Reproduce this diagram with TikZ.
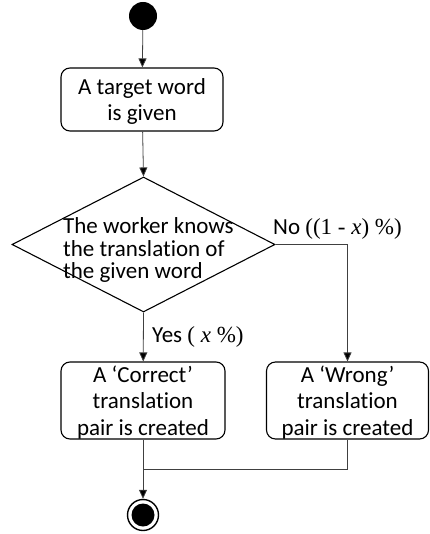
\documentclass[tikz,border=0pt]{standalone}
\usepackage{fontspec}
\setmainfont{Carlito}[Ligatures=NoCommon]
\newfontfamily\mathserif{Liberation Serif}
\usetikzlibrary{shapes.geometric,arrows.meta}

\tikzset{
  base/.style={font=\fontsize{23}{26.5}\selectfont},
  action/.style={base, draw=black, line width=1.1pt, rounded corners=9pt,
    align=center, inner sep=0pt, text depth=0pt},
  decision/.style={draw=black, line width=1.1pt, diamond, inner sep=0pt,
    minimum width=263pt, minimum height=135pt},
  initial/.style={circle, fill=black, inner sep=0pt, minimum size=28pt},
  final/.style={circle, draw=black, line width=1.4pt, inner sep=0pt,
    minimum size=31pt, path picture={\fill[black] (path picture bounding box.center) circle (11.5pt);}},
  flow/.style={draw=black!75, line width=0.8pt},
  arrow/.style={flow, -{Triangle[length=9pt,width=8pt,fill=black]}},
  guard/.style={base, inner sep=0pt, anchor=base west}
}

\begin{document}
\begin{tikzpicture}[x=1pt,y=-1pt]
  \useasboundingbox (0,0) rectangle (429,534);

  % nodes
  \node[initial] (start) at (143,16) {};
  \node[action, minimum width=162pt, minimum height=63pt] (given) at (142,99.5)
    {A target word\\is given};
  \node[decision] (knows) at (143.5,244.5) {};
  \node[base, align=left, inner sep=0pt, anchor=west,
    font=\fontsize{23}{22.5}\selectfont] (question) at (63,250)
    {The worker knows\\the translation of\\the given word};
  \node[action, minimum width=164pt, minimum height=77pt] (correct) at (143,400.5)
    {A ‘Correct’\\translation\\pair is created};
  \node[action, minimum width=162pt, minimum height=77pt] (wrong) at (347.5,400.5)
    {A ‘Wrong’\\translation\\pair is created};
  \node[final] (end) at (143,515) {};
  \coordinate (merge) at (143,469);

  % guards
  \node[guard] (no) at (273,234) {No {\mathserif((1 - \textit{x}) \%)}};
  \node[guard] (yes) at (152,342) {Yes {\mathserif( \textit{x} \%)}};

  % connectors
  \draw[arrow] (start) -- (given);
  \draw[arrow] (given) -- (knows.north);
  \draw[arrow] (knows.south) -- (correct);
  \draw[arrow] (knows.east) -| (wrong.north);
  \draw[arrow] (correct.south) -- (end);
  \draw[flow] (wrong.south) |- (merge);
\end{tikzpicture}
\end{document}
